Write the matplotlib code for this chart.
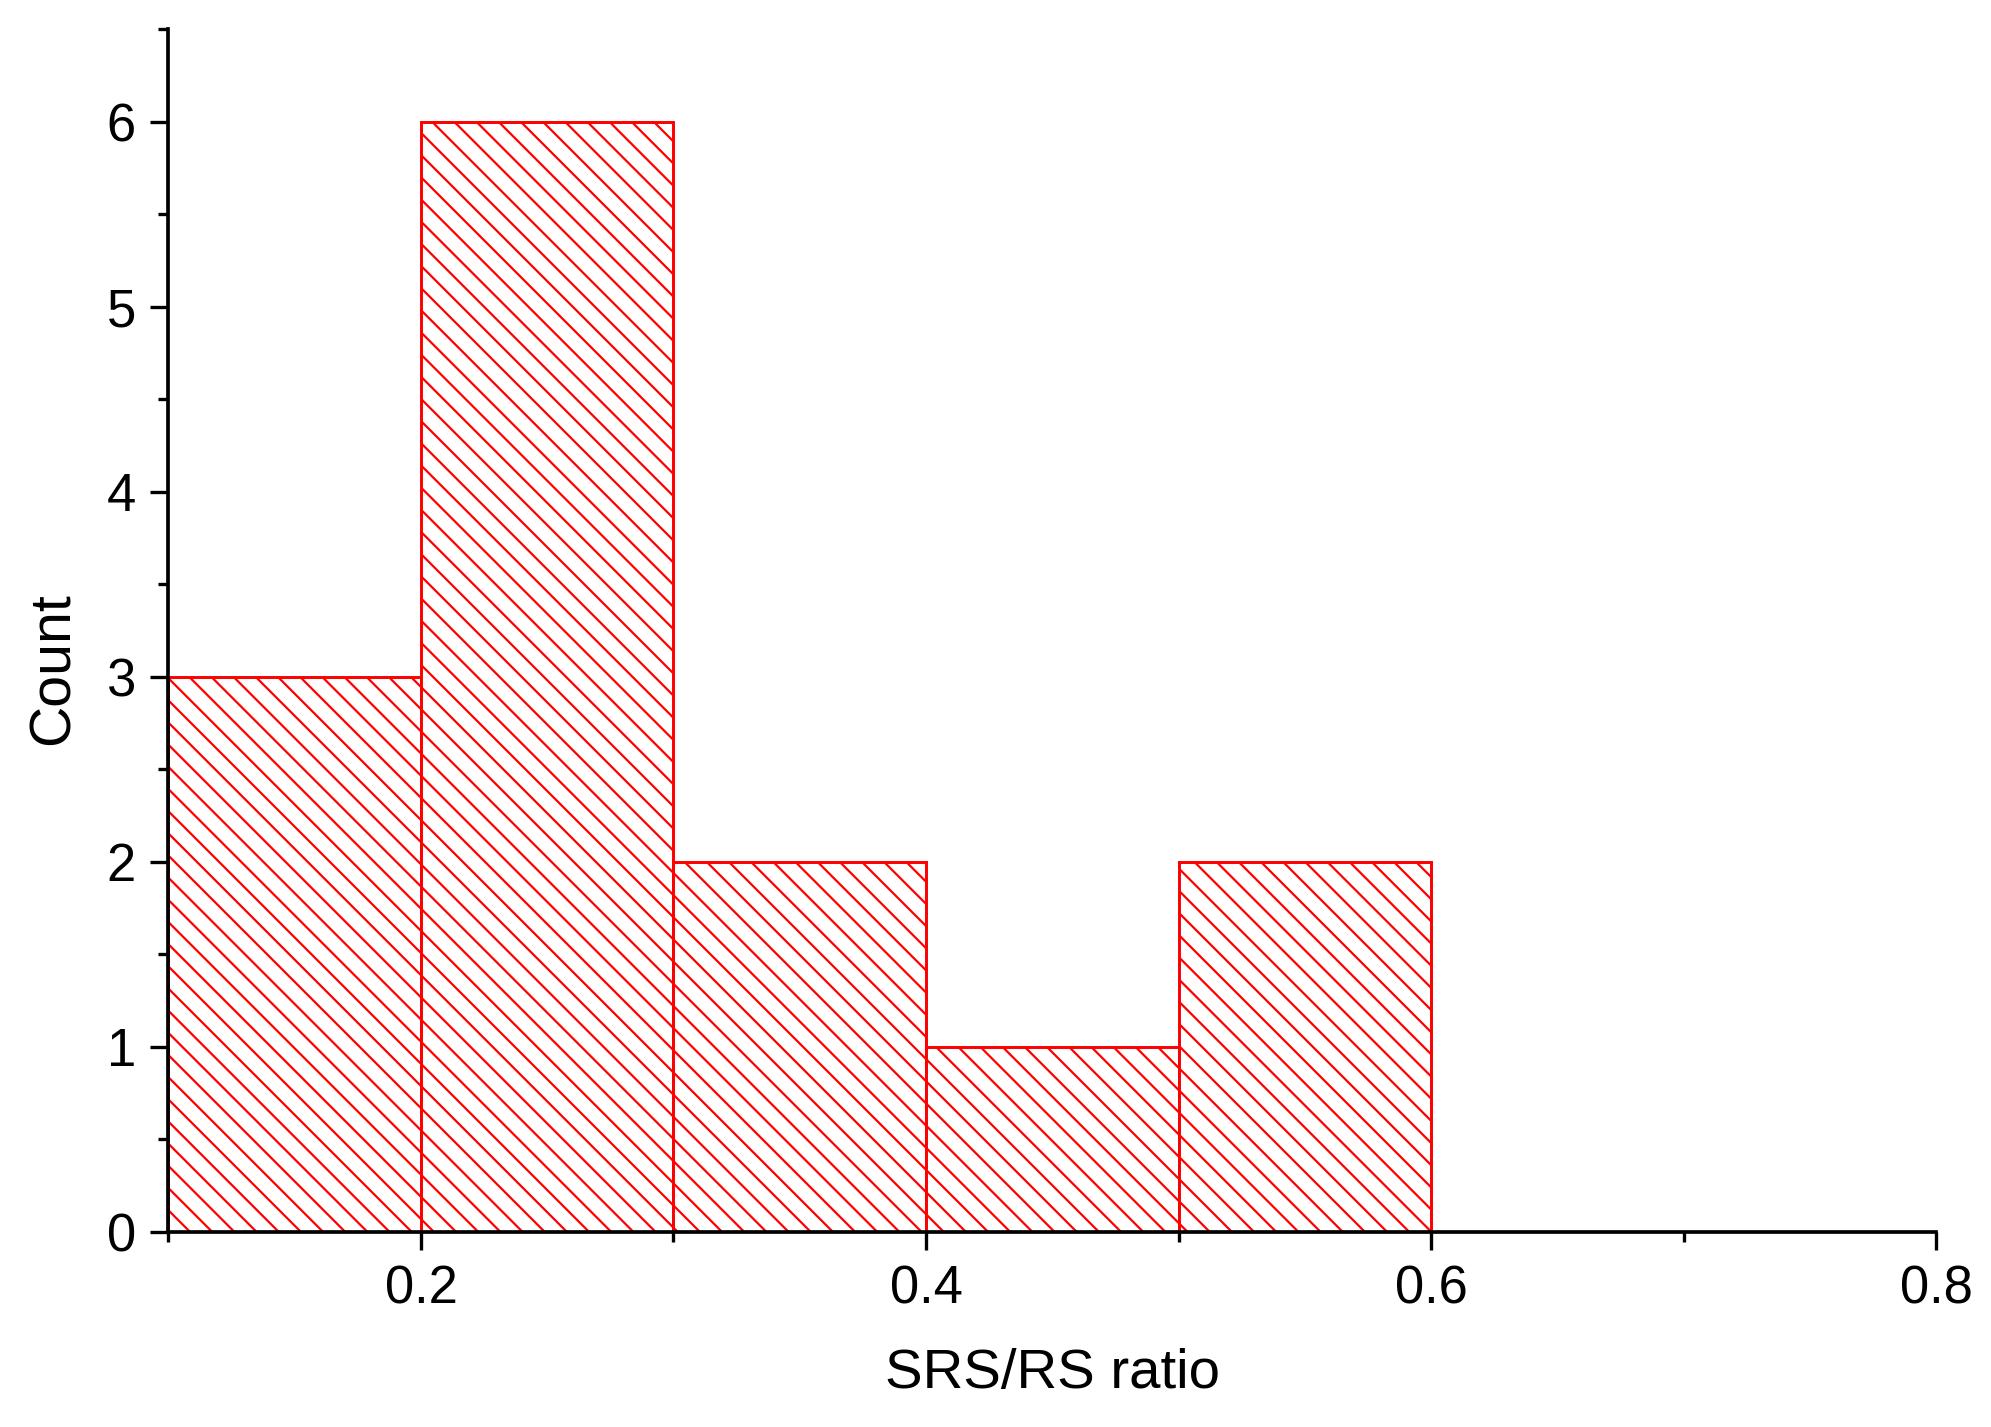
import matplotlib
matplotlib.use("Agg")
import matplotlib.pyplot as plt
from matplotlib.ticker import MultipleLocator

# histogram data
bin_left = [0.1, 0.2, 0.3, 0.4, 0.5]
bin_width = 0.1
counts = [3, 6, 2, 1, 2]

x_ticks = [0.2, 0.4, 0.6, 0.8]
y_ticks = [0, 1, 2, 3, 4, 5, 6]

plt.rcParams['font.family'] = ['Liberation Sans', 'DejaVu Sans']
plt.rcParams['hatch.linewidth'] = 1.2
plt.rcParams['hatch.color'] = 'red'

dpi = 133
fig = plt.figure(figsize=(1991 / dpi, 1427 / dpi), dpi=dpi)
ax = fig.add_axes([0.0846, 0.1367, 0.9724 - 0.0846, 0.9797 - 0.1367])

ax.bar(bin_left, counts, width=bin_width, align='edge',
       facecolor='white', edgecolor='red', linewidth=1.6, hatch='\\\\')

ax.set_xlim(0.1, 0.8)
ax.set_ylim(0, 6.5)
ax.set_xticks(x_ticks)
ax.set_xticklabels([str(t) for t in x_ticks])
ax.set_yticks(y_ticks)
ax.xaxis.set_minor_locator(MultipleLocator(0.1))
ax.yaxis.set_minor_locator(MultipleLocator(0.5))

for s in ['top', 'right']:
    ax.spines[s].set_visible(False)
for s in ['left', 'bottom']:
    ax.spines[s].set_linewidth(2.0)

ax.tick_params(which='major', direction='out', length=9.5, width=1.8,
               labelsize=28.5, pad=8)
ax.tick_params(which='minor', direction='out', length=5.2, width=1.8)

ax.set_xlabel('SRS/RS ratio', fontsize=30.5, labelpad=18)
ax.set_ylabel('Count', fontsize=31, labelpad=14)
ax.yaxis.label.set_y(0.468)  # label sits a bit below centre in the original

fig.savefig('out.png', dpi=dpi)
